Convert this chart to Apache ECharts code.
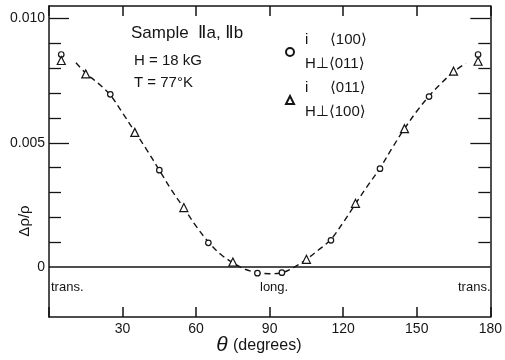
<!DOCTYPE html>
<html>
<head>
<meta charset="utf-8">
<script src="https://cdn.jsdelivr.net/npm/echarts@6/dist/echarts.min.js"></script>
<style>
  html, body { margin: 0; padding: 0; background: #ffffff; }
  #chart { width: 505px; height: 360px; }
</style>
</head>
<body>
<div id="chart"></div>
<script>
// Magnetoresistance of sample IIa, IIb versus field angle
// Angles (degrees) of the measured points
const circleTheta = [5, 25, 45, 65, 85, 95, 115, 135, 155, 175];
const circleVals  = [0.00855, 0.00695, 0.0039, 0.00098, -0.00024, -0.00022, 0.00108, 0.00396, 0.00686, 0.00855];

const triTheta = [5, 15, 35, 55, 75, 105, 125, 145, 165, 175];
const triVals  = [0.00831, 0.00777, 0.00542, 0.0024, 0.00021, 0.00032, 0.00257, 0.00557, 0.00788, 0.00828];

// Dashed guide curve through the data
const curveTheta = [11, 15, 20, 25, 30, 35, 40, 45, 50, 55, 60, 65, 70, 75, 80, 85, 90, 95,
                    100, 105, 110, 115, 120, 125, 130, 135, 140, 145, 150, 155, 160, 165, 170];
const curveVals  = [0.00822, 0.0078, 0.0074, 0.00692, 0.0062, 0.00545, 0.0047, 0.0039, 0.0031,
                    0.00238, 0.00165, 0.00102, 0.00052, 0.00018, -0.00008, -0.00022, -0.00026,
                    -0.00022, 0.0, 0.00032, 0.0007, 0.00112, 0.0018, 0.00255, 0.00328, 0.00398,
                    0.0048, 0.00557, 0.00627, 0.00688, 0.0074, 0.00785, 0.0082];

// Axis ticks and labels
const xTicks = [0, 30, 60, 90, 120, 150, 180];
const yLabelVals = [0, 0.005, 0.01];
const yLabelText = ['0', '0.005', '0.010'];
const yMinorTicks = [0.001, 0.002, 0.003, 0.004, 0.006, 0.007, 0.008, 0.009];
const yMajorTicks = [0.005, 0.01];

const legendCircle = 'i ⟨100⟩|H⊥⟨011⟩';
const legendTri = 'i ⟨011⟩|H⊥⟨100⟩';

const FONT = "'Liberation Sans', 'DejaVu Sans', sans-serif";
const INK = '#151515';

const zip = (a, b) => a.map((v, i) => [v, b[i]]);

const chart = echarts.init(document.getElementById('chart'), null, { renderer: 'canvas' });

function xAx(position, showLabel) {
  return {
    type: 'value', position: position, min: 0, max: 180, interval: 30,
    axisLine: { show: true, onZero: false, lineStyle: { color: INK, width: 1.5 } },
    axisTick: { show: true, inside: true, length: 10, lineStyle: { color: INK, width: 1.5 } },
    axisLabel: {
      show: showLabel, margin: 5, color: INK, fontFamily: FONT, fontSize: 14,
      formatter: v => (v === 0 ? '' : String(v))
    },
    splitLine: { show: false }
  };
}

function yAx(position, ticks, len, withLabels, withLine) {
  return {
    type: 'value', position: position, min: -0.002, max: 0.0105,
    axisLine: { show: withLine, onZero: false, lineStyle: { color: INK, width: 1.5 } },
    axisTick: { show: true, inside: true, length: len, customValues: ticks,
                lineStyle: { color: INK, width: 1.3 } },
    axisLabel: {
      show: withLabels, margin: 4, color: INK, fontFamily: FONT, fontSize: 14,
      customValues: yLabelVals,
      formatter: v => {
        const i = yLabelVals.findIndex(t => Math.abs(t - v) < 1e-9);
        return i >= 0 ? yLabelText[i] : '';
      }
    },
    splitLine: { show: false }
  };
}

const option = {
  backgroundColor: '#ffffff',
  animation: false,
  grid: { left: 49, right: 10, top: 6, bottom: 43, containLabel: false },
  xAxis: [xAx('bottom', true), xAx('top', false)],
  yAxis: [
    yAx('left', yMinorTicks, 12, true, true),
    yAx('left', yMajorTicks, 20, false, false),
    yAx('right', yMinorTicks, 12, false, true),
    yAx('right', yMajorTicks, 20, false, false)
  ],
  legend: {
    orient: 'vertical', left: 285, top: 28, padding: 0, itemGap: 0,
    itemWidth: 8, itemHeight: 8, selectedMode: false,
    data: [legendCircle, legendTri],
    formatter: name => {
      const parts = name.split('|');
      const first = parts[0].split(' ');
      return '{a|' + first[0] + '}{b|' + first[1] + '}\n{b|' + parts[1] + '}';
    },
    textStyle: {
      color: INK, fontFamily: FONT, fontSize: 15, lineHeight: 24, padding: [0, 0, 0, 6],
      rich: {
        a: { width: 25, fontSize: 15, fontFamily: FONT, color: INK, lineHeight: 24 },
        b: { fontSize: 15, fontFamily: FONT, color: INK, lineHeight: 24 }
      }
    }
  },
  series: [
    {
      name: 'curve', type: 'line', smooth: 0.35, showSymbol: false, silent: true,
      data: zip(curveTheta, curveVals),
      lineStyle: { color: INK, width: 1.4, type: [6, 4] },
      markLine: {
        silent: true, symbol: ['none', 'none'], label: { show: false },
        lineStyle: { color: INK, width: 1.5, type: 'solid' },
        data: [{ yAxis: 0 }]
      },
      z: 3
    },
    {
      name: legendCircle, type: 'scatter', symbol: 'circle', symbolSize: 5.5,
      data: zip(circleTheta, circleVals),
      itemStyle: { color: '#ffffff', borderColor: INK, borderWidth: 1.2, opacity: 1 },
      z: 5
    },
    {
      name: legendTri, type: 'scatter', symbol: 'triangle', symbolSize: 8,
      data: zip(triTheta, triVals),
      itemStyle: { color: '#ffffff', borderColor: INK, borderWidth: 1.2, opacity: 1 },
      z: 5
    }
  ],
  graphic: [
    { type: 'text', left: 131, top: 25,
      style: { text: 'Sample  Ⅱa, Ⅱb', font: "17px " + FONT, fill: INK } },
    { type: 'text', left: 134, top: 53,
      style: { text: 'H = 18 kG', font: "15px " + FONT, fill: INK } },
    { type: 'text', left: 134, top: 75,
      style: { text: 'T = 77°K', font: "15px " + FONT, fill: INK } },
    { type: 'text', left: 51, top: 281,
      style: { text: 'trans.', font: "13px " + FONT, fill: INK } },
    { type: 'text', left: 260, top: 281,
      style: { text: 'long.', font: "13px " + FONT, fill: INK } },
    { type: 'text', left: 458, top: 281,
      style: { text: 'trans.', font: "13px " + FONT, fill: INK } },
    { type: 'text', x: 25, y: 221, rotation: Math.PI / 2,
      style: { text: 'Δρ/ρ', font: "15px " + FONT, fill: INK, align: 'center', verticalAlign: 'middle' } },
    { type: 'text', x: 222, y: 345,
      style: { text: 'θ', font: "italic 21px " + FONT, fill: INK, align: 'center', verticalAlign: 'middle' } },
    { type: 'text', x: 233, y: 346,
      style: { text: '(degrees)', font: "16px " + FONT, fill: INK, align: 'left', verticalAlign: 'middle' } }
  ]
};

chart.setOption(option);
</script>
</body>
</html>
